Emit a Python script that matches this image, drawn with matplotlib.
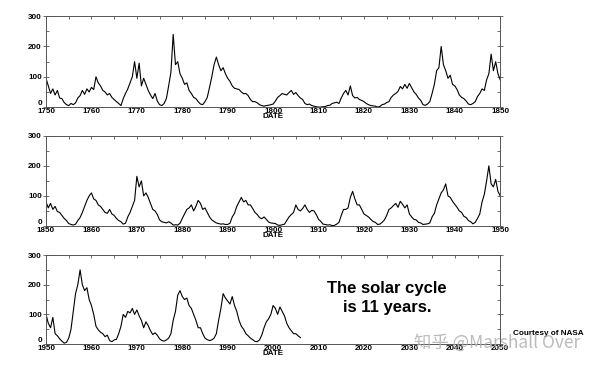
import numpy as np
import matplotlib.pyplot as plt
from matplotlib.ticker import MultipleLocator

# Sunspot number, two readings per year (Jan, Jul)
start_1 = 1750
ssn_1 = [
    95, 70, 45, 60, 40, 55, 30, 28, 15, 8, 5, 12, 8, 14, 30, 38, 55, 42, 60, 50,
    65, 58, 100, 80, 70, 55, 50, 40, 45, 32, 25, 18, 12, 5, 28, 45, 60, 80, 100, 150,
    95, 145, 70, 95, 75, 55, 40, 28, 45, 20, 8, 5, 12, 28, 70, 115, 240, 140, 150, 110,
    95, 75, 80, 55, 45, 32, 28, 18, 10, 8, 18, 32, 65, 100, 140, 165, 140, 120, 130, 110,
    95, 85, 70, 62, 60, 58, 50, 44, 45, 38, 25, 18, 18, 14, 8, 5, 3, 5, 6, 8,
    10, 20, 32, 38, 45, 42, 40, 48, 55, 42, 48, 38, 30, 25, 12, 8, 10, 5, 3, 1,
    0, 0, 1, 2, 5, 6, 12, 14, 16, 12, 30, 45, 55, 40, 70, 38, 30, 32, 25, 22,
    18, 12, 8, 5, 4, 3, 0, 2, 8, 10, 15, 18, 32, 40, 45, 52, 68, 60, 75, 62,
    78, 64, 50, 42, 30, 22, 8, 6, 10, 18, 45, 75, 120, 130, 200, 140, 120, 95, 105, 75,
    70, 58, 40, 32, 28, 20, 10, 8, 12, 18, 35, 45, 60, 55, 90, 110, 175, 120, 150, 110,
    90,
]

start_2 = 1850
ssn_2 = [
    80, 60, 75, 55, 65, 48, 45, 35, 25, 18, 8, 5, 3, 6, 18, 28, 45, 65, 85, 100,
    110, 90, 85, 70, 65, 55, 45, 42, 55, 40, 35, 25, 18, 14, 6, 9, 30, 45, 65, 85,
    165, 130, 150, 100, 110, 95, 75, 55, 50, 38, 20, 14, 12, 10, 14, 10, 3, 4, 3, 9,
    25, 40, 55, 60, 70, 50, 65, 85, 75, 55, 60, 45, 30, 20, 15, 10, 8, 6, 7, 5,
    5, 9, 30, 42, 65, 80, 95, 80, 85, 70, 70, 58, 45, 38, 28, 24, 30, 22, 13, 10,
    9, 8, 3, 2, 4, 6, 18, 30, 38, 45, 70, 55, 50, 58, 70, 55, 45, 52, 50, 38,
    22, 15, 6, 5, 3, 4, 1, 2, 6, 12, 35, 55, 55, 60, 95, 115, 90, 70, 70, 55,
    40, 35, 30, 22, 15, 12, 5, 6, 12, 20, 35, 55, 60, 68, 75, 62, 82, 72, 60, 70,
    40, 30, 22, 20, 12, 10, 5, 6, 7, 10, 30, 42, 70, 90, 110, 120, 140, 100, 95, 82,
    72, 62, 50, 45, 32, 28, 18, 14, 7, 12, 25, 40, 80, 105, 150, 200, 140, 130, 155, 115,
    100,
]

start_3 = 1950
ssn_3 = [
    100, 70, 55, 90, 35, 28, 18, 10, 3, 6, 20, 50, 110, 170, 200, 250, 200, 180, 190, 150,
    130, 100, 60, 48, 40, 35, 25, 30, 12, 8, 14, 16, 35, 60, 100, 90, 110, 105, 120, 100,
    115, 95, 80, 55, 75, 62, 45, 32, 38, 30, 18, 12, 10, 14, 20, 35, 80, 110, 165, 180,
    160, 150, 155, 130, 120, 100, 80, 55, 55, 35, 20, 15, 12, 14, 20, 35, 80, 120, 170, 155,
    145, 135, 160, 130, 110, 80, 60, 50, 35, 28, 20, 15, 9, 8, 14, 30, 55, 75, 85, 100,
    130, 120, 100, 125, 110, 95, 70, 55, 45, 35, 35, 28,
    22,
]

panels = [(start_1, ssn_1), (start_2, ssn_2), (start_3, ssn_3)]
y_ticks = [0, 100, 200, 300]

# axes boxes in figure fraction: left, bottom, width, height
boxes = [
    (0.0767, 0.709, 0.757, 0.247),
    (0.0767, 0.386, 0.757, 0.245),
    (0.0767, 0.065, 0.757, 0.242),
]

tick_font = dict(family="Liberation Sans", size=5.8, weight="bold")

fig = plt.figure(figsize=(6, 3.68), dpi=100)

for (start, ssn), box in zip(panels, boxes):
    ax = fig.add_axes(box)
    years = start + 0.5 * np.arange(len(ssn))
    ax.plot(years, ssn, color="black", linewidth=0.8)

    ax.set_xlim(start, start + 100)
    ax.set_ylim(0, 300)
    ax.set_xticks(np.arange(start, start + 101, 10))
    ax.xaxis.set_minor_locator(MultipleLocator(5))
    ax.set_yticks(y_ticks)
    ax.yaxis.set_minor_locator(MultipleLocator(50))

    ax.tick_params(axis="x", which="both", direction="in", top=True, bottom=False,
                   length=2.5, width=0.6, color="#555555", pad=1)
    ax.tick_params(axis="y", which="major", direction="inout", right=True,
                   length=4, width=0.6, color="#555555", pad=1)
    ax.tick_params(axis="y", which="minor", direction="in", right=True,
                   length=2.5, width=0.6, color="#555555")

    ax.set_xticklabels([str(v) for v in range(start, start + 101, 10)], fontdict=tick_font)
    ax.set_yticklabels([str(v) for v in y_ticks], fontdict=tick_font)
    # the zero label sits a little above the baseline, clear of the year label
    ax.get_yticklabels()[0].set_verticalalignment("bottom")

    for sp in ax.spines.values():
        sp.set_color("#555555")
        sp.set_linewidth(0.7)

    ax.set_xlabel("DATE", fontdict=tick_font, labelpad=-1.5)

fig.text(0.645, 0.19, "The solar cycle\nis 11 years.", ha="center", va="center",
         family="Liberation Sans", weight="bold", fontsize=12, linespacing=1.4)
fig.text(0.855, 0.095, "Courtesy of NASA", ha="left", va="center",
         family="Liberation Sans", weight="bold", fontsize=5.9)
fig.text(0.69, 0.068, "知乎 @Marshall Over", ha="left", va="center",
         family=["Noto Sans CJK SC", "DejaVu Sans"], fontsize=12.5,
         color="#b0b0b0", alpha=0.85)

plt.savefig("out.png", dpi=100)
